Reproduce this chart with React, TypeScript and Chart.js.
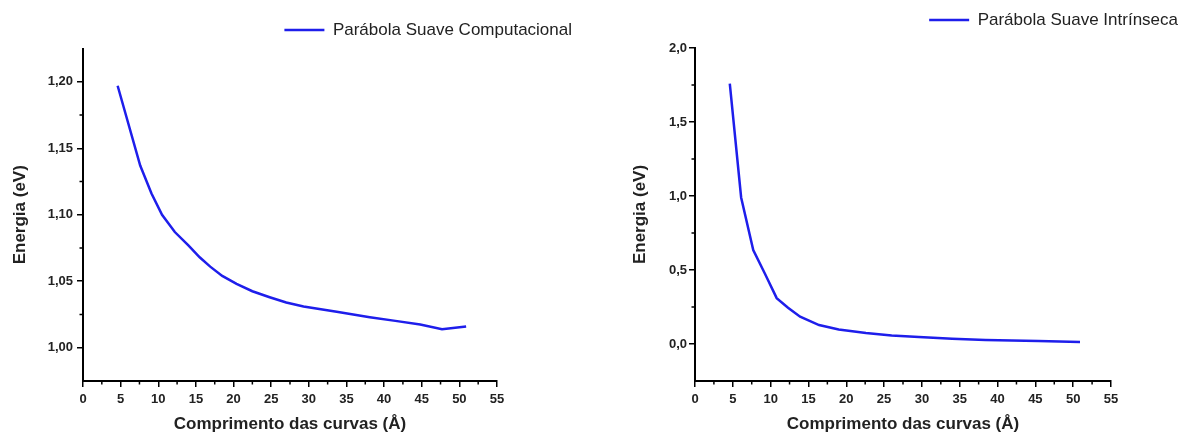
import React, { useEffect, useRef } from "react";
import { Chart, registerables } from "chart.js";

Chart.register(...registerables);

// ---------- data ----------
const xTicks = [0, 5, 10, 15, 20, 25, 30, 35, 40, 45, 50, 55];
const xTickLabels = ["0", "5", "10", "15", "20", "25", "30", "35", "40", "45", "50", "55"];
const xMinor = [2.5, 7.5, 12.5, 17.5, 22.5, 27.5, 32.5, 37.5, 42.5, 47.5, 52.5];

const compLabel = "Parábola Suave Computacional";
const compX = [4.6, 7.6, 9.1, 10.5, 12.2, 14.0, 15.5, 16.9, 18.5, 20.4, 22.5, 24.8, 27.0, 29.3, 33.7, 38.1, 41.5, 44.8, 47.7, 50.9];
const compY = [1.197, 1.137, 1.116, 1.1, 1.087, 1.077, 1.068, 1.061, 1.054, 1.048, 1.0425, 1.038, 1.034, 1.031, 1.027, 1.023, 1.0202, 1.0175, 1.014, 1.016];
const compYTicks = [1.0, 1.05, 1.1, 1.15, 1.2];
const compYTickLabels = ["1,00", "1,05", "1,10", "1,15", "1,20"];
const compYMinor = [1.025, 1.075, 1.125, 1.175];

const intrLabel = "Parábola Suave Intrínseca";
const intrX = [4.6, 6.1, 7.7, 9.2, 10.8, 12.3, 13.9, 16.4, 19.0, 22.6, 26.0, 29.6, 34.0, 38.4, 45.4, 50.9];
const intrY = [1.76, 0.99, 0.635, 0.48, 0.31, 0.245, 0.184, 0.128, 0.098, 0.074, 0.058, 0.047, 0.036, 0.027, 0.02, 0.013];
const intrYTicks = [0, 0.5, 1.0, 1.5, 2.0];
const intrYTickLabels = ["0,0", "0,5", "1,0", "1,5", "2,0"];
const intrYMinor = [0.25, 0.75, 1.25, 1.75];

const xTitle = "Comprimento das curvas (Å)";
const yTitle = "Energia (eV)";

// ---------- styling ----------
const FONT = "'Liberation Sans', Arial, sans-serif";
const LINE_COLOR = "rgb(30,30,235)";
const TEXT = "#222";

const minorTickPlugin = {
  id: "minorTicks",
  afterDraw(chart: any, _args: any, opts: any) {
    const ctx = chart.ctx;
    const xs = chart.scales.x;
    const ys = chart.scales.y;
    ctx.save();
    ctx.strokeStyle = "#000";
    ctx.lineWidth = 1.5;
    ctx.beginPath();
    for (const v of opts.x || []) {
      const px = xs.getPixelForValue(v);
      ctx.moveTo(px, xs.top);
      ctx.lineTo(px, xs.top + 3.5);
    }
    for (const v of opts.y || []) {
      const py = ys.getPixelForValue(v);
      ctx.moveTo(ys.right, py);
      ctx.lineTo(ys.right - 3.5, py);
    }
    ctx.stroke();
    ctx.restore();
  },
};

type Panel = {
  label: string;
  xs: number[];
  ys: number[];
  yMin: number;
  yMax: number;
  yTicks: number[];
  yTickLabels: string[];
  yMinor: number[];
  left: number;
  width: number;
  yAxisWidth: number;
  rightWidth: number;
  topPad: number;
  legendPad: number;
  topGap: number;
  yTitlePad: number;
  yTickPad: number;
};

const panels: Panel[] = [
  {
    label: compLabel,
    xs: compX,
    ys: compY,
    yMin: 0.975,
    yMax: 1.225,
    yTicks: compYTicks,
    yTickLabels: compYTickLabels,
    yMinor: compYMinor,
    left: 0,
    width: 582,
    yAxisWidth: 83,
    rightWidth: 85,
    topPad: 11.5,
    legendPad: 10,
    topGap: 0,
    yTitlePad: 10,
    yTickPad: 4,
  },
  {
    label: intrLabel,
    xs: intrX,
    ys: intrY,
    yMin: -0.25,
    yMax: 2.0,
    yTicks: intrYTicks,
    yTickLabels: intrYTickLabels,
    yMinor: intrYMinor,
    left: 601,
    width: 582,
    yAxisWidth: 94,
    rightWidth: 72,
    topPad: 6.5,
    legendPad: 5,
    topGap: 9.5,
    yTitlePad: 29,
    yTickPad: 2,
  },
];

const HEIGHT = 435;
const PLOT_BOTTOM = 381;

function ChartPanel({ p }: { p: Panel }) {
  const ref = useRef<HTMLCanvasElement | null>(null);
  useEffect(() => {
    if (!ref.current) return;
    const data = p.xs.map((x, i) => ({ x, y: p.ys[i] }));
    const chart = new Chart(ref.current, {
      type: "line",
      data: {
        datasets: [
          {
            label: p.label,
            data,
            borderColor: LINE_COLOR,
            backgroundColor: LINE_COLOR,
            borderWidth: 2.5,
            pointRadius: 0,
            tension: 0,
            fill: false,
          },
        ],
      },
      plugins: [minorTickPlugin],
      options: {
        responsive: false,
        animation: false,
        devicePixelRatio: 1,
        layout: { padding: { top: p.topPad, left: 0, right: 0, bottom: 0 } },
        plugins: {
          legend: {
            display: true,
            position: "top",
            align: "end",
            labels: {
              usePointStyle: true,
              pointStyle: "line",
              pointStyleWidth: 40,
              padding: p.legendPad,
              color: TEXT,
              font: { family: FONT, size: 17 },
            },
          },
          tooltip: { enabled: false },
          minorTicks: { x: xMinor, y: p.yMinor },
        } as any,
        scales: {
          x: {
            type: "linear",
            position: "bottom",
            min: 0,
            max: 55,
            afterBuildTicks: (s: any) => {
              s.ticks = xTicks.map((v) => ({ value: v }));
            },
            afterFit: (s: any) => {
              s.height = HEIGHT - PLOT_BOTTOM;
            },
            grid: {
              drawOnChartArea: false,
              drawTicks: true,
              tickLength: 6,
              color: "#000",
              lineWidth: 1.5,
            },
            border: { display: true, color: "#000", width: 2 },
            ticks: {
              padding: 5,
              color: TEXT,
              font: { family: FONT, size: 13, weight: "bold" },
              maxRotation: 0,
              autoSkip: false,
              callback: (_v: any, i: number) => xTickLabels[i],
            },
            title: {
              display: true,
              text: xTitle,
              color: TEXT,
              font: { family: FONT, size: 17, weight: "bold" },
              padding: { top: 0, bottom: 0 },
            },
          },
          y: {
            type: "linear",
            position: "left",
            min: p.yMin,
            max: p.yMax,
            afterBuildTicks: (s: any) => {
              s.ticks = p.yTicks.map((v) => ({ value: v }));
            },
            afterFit: (s: any) => {
              s.width = p.yAxisWidth;
            },
            grid: {
              drawOnChartArea: false,
              drawTicks: true,
              tickLength: 6,
              color: "#000",
              lineWidth: 1.5,
            },
            border: { display: true, color: "#000", width: 2 },
            ticks: {
              padding: p.yTickPad,
              color: TEXT,
              font: { family: FONT, size: 13, weight: "bold" },
              autoSkip: false,
              callback: (_v: any, i: number) => p.yTickLabels[i],
            },
            title: {
              display: true,
              text: yTitle,
              color: TEXT,
              font: { family: FONT, size: 17, weight: "bold" },
              padding: { top: p.yTitlePad, bottom: 0 },
            },
          },
          yR: {
            type: "linear",
            position: "right",
            display: true,
            grid: { display: false, drawTicks: false },
            border: { display: false },
            ticks: { display: false },
            afterFit: (s: any) => {
              s.width = p.rightWidth;
            },
          },
          xT: {
            type: "linear",
            position: "top",
            display: true,
            grid: { display: false, drawTicks: false },
            border: { display: false },
            ticks: { display: false },
            afterFit: (s: any) => {
              s.height = p.topGap;
            },
          },
        } as any,
      },
    });
    return () => chart.destroy();
  }, [p]);

  return (
    <canvas
      ref={ref}
      width={p.width}
      height={HEIGHT}
      style={{ position: "absolute", left: p.left, top: 0, width: p.width, height: HEIGHT }}
    />
  );
}

export default function App() {
  return (
    <div
      style={{
        position: "absolute",
        left: 0,
        top: 0,
        width: 1183,
        height: HEIGHT,
        overflow: "hidden",
        background: "#fff",
      }}
    >
      {panels.map((p, i) => (
        <ChartPanel key={i} p={p} />
      ))}
    </div>
  );
}
